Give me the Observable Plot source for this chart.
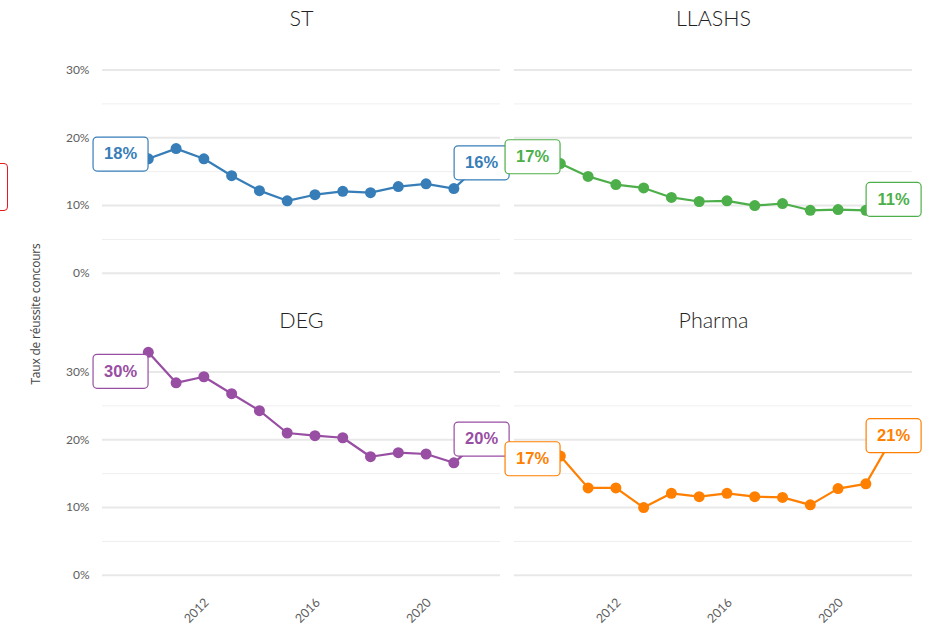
<!DOCTYPE html>
<html>
<head>
<meta charset="utf-8">
<script src="https://cdn.jsdelivr.net/npm/d3@7"></script>
<script src="https://cdn.jsdelivr.net/npm/@observablehq/plot@0.6"></script>
<style>
  html, body { margin: 0; padding: 0; background: #fff; overflow: hidden; }
  #wrap { position: relative; width: 935px; height: 625px; }
  #ylabel { position: absolute; left: 35px; top: 314px; transform: translate(-50%, -50%) rotate(-90deg);
    font-family: "Open Sans", Lato, sans-serif; font-weight: 400; font-size: 12px; color: #444; white-space: nowrap; letter-spacing: -0.2px; }
  #redbox { position: absolute; left: -46px; top: 163px; width: 52px; height: 46px; border: 1px solid #e41a1c; border-radius: 4px; }
</style>
</head>
<body>
<div id="wrap">
  <div id="chart"></div>
  <div id="redbox"></div>
  <div id="ylabel">Taux de réussite concours</div>
</div>
<script>
const years = [2009, 2010, 2011, 2012, 2013, 2014, 2015, 2016, 2017, 2018, 2019, 2020, 2021, 2022];
const programs = ["ST", "LLASHS", "DEG", "Pharma"];
const colors = ["#377eb8", "#4daf4a", "#984ea3", "#ff7f00"];
const stValues     = [17.6, 16.9, 18.4, 16.9, 14.4, 12.2, 10.7, 11.6, 12.1, 11.9, 12.8, 13.2, 12.5, 16.3];
const llashsValues = [17.2, 16.2, 14.3, 13.1, 12.6, 11.2, 10.6, 10.7, 10.0, 10.3, 9.3, 9.4, 9.3, 10.9];
const degValues    = [30.1, 32.9, 28.4, 29.3, 26.8, 24.3, 21.0, 20.6, 20.3, 17.5, 18.1, 17.9, 16.6, 20.1];
const pharmaValues = [17.2, 17.6, 12.9, 12.9, 10.0, 12.1, 11.6, 12.1, 11.6, 11.5, 10.4, 12.8, 13.5, 20.6];
const yMajorTicks = [0, 10, 20, 30];
const yMinorTicks = [5, 15, 25];
const xTicks = [2012, 2016, 2020];

const seriesValues = [stValues, llashsValues, degValues, pharmaValues];
const data = [];
programs.forEach((p, i) => {
  years.forEach((yr, j) => data.push({program: p, year: yr, value: seriesValues[i][j], col: i % 2, row: Math.floor(i / 2)}));
});
const labels = data.filter(d => d.year === years[0] || d.year === years[years.length - 1]);
const titles = programs.map((p, i) => ({program: p, col: i % 2, row: Math.floor(i / 2)}));

const labelBox = {
  draw(ctx) {
    const w = 27.5, h = 17, r = 4;
    ctx.moveTo(-w + r, -h);
    ctx.lineTo(w - r, -h);
    ctx.arcTo(w, -h, w, -h + r, r);
    ctx.lineTo(w, h - r);
    ctx.arcTo(w, h, w - r, h, r);
    ctx.lineTo(-w + r, h);
    ctx.arcTo(-w, h, -w, h - r, r);
    ctx.lineTo(-w, -h + r);
    ctx.arcTo(-w, -h, -w + r, -h, r);
    ctx.closePath();
  }
};

const chart = Plot.plot({
  width: 935,
  height: 625,
  marginLeft: 102,
  marginRight: 23,
  marginTop: 38.4,
  marginBottom: 38.8,
  style: {fontFamily: "Lato, 'Liberation Sans', sans-serif", background: "white"},
  x: {domain: [2008.35, 2022.68]},
  y: {domain: [-1.5, 34.5]},
  fx: {domain: [0, 1], paddingInner: 0.034, paddingOuter: 0, axis: null},
  fy: {domain: [0, 1], paddingInner: 0.192, paddingOuter: 0, axis: null},
  color: {domain: programs, range: colors},
  marks: [
    Plot.gridY(yMinorTicks, {stroke: "#efefef", strokeOpacity: 1, strokeWidth: 1}),
    Plot.gridY(yMajorTicks, {stroke: "#e8e8e8", strokeOpacity: 1, strokeWidth: 2}),
    Plot.axisY(yMajorTicks, {tickFormat: d => d + "%", tickSize: 0, tickPadding: 13, fontSize: 12, color: "#606060", label: null}),
    Plot.axisX(xTicks, {tickFormat: d => String(d), tickRotate: -45, tickSize: 0, tickPadding: 15, dx: 3, fontSize: 12.5, color: "#606060", label: null}),
    Plot.text(titles, {fx: "col", fy: "row", text: "program", frameAnchor: "top", lineAnchor: "middle", dy: -20, fontSize: 21.5, fill: "#222", fontWeight: 300}),
    Plot.line(data, {x: "year", y: "value", stroke: "program", fx: "col", fy: "row", strokeWidth: 2.2}),
    Plot.dot(data, {x: "year", y: "value", fill: "program", fx: "col", fy: "row", r: 5.5}),
    Plot.dot(labels, {x: "year", y: "value", stroke: "program", fx: "col", fy: "row", symbol: labelBox, fill: "white", strokeWidth: 1.2, r: 5}),
    Plot.text(labels, {x: "year", y: "value", fill: "program", fx: "col", fy: "row", text: d => Math.round(d.value) + "%", fontSize: 16.5, fontWeight: "bold", fontFamily: "'Liberation Sans', Arial, sans-serif"})
  ]
});
document.getElementById("chart").appendChild(chart);
</script>
</body>
</html>
